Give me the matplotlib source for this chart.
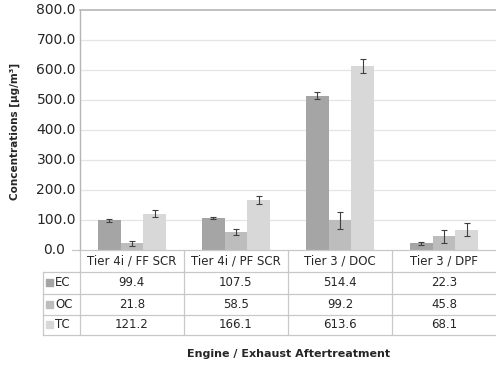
import matplotlib
matplotlib.use('Agg')
import matplotlib.pyplot as plt
from matplotlib.patches import Rectangle

# carbon fractions per engine / aftertreatment configuration
categories = ['Tier 4i / FF SCR', 'Tier 4i / PF SCR', 'Tier 3 / DOC', 'Tier 3 / DPF']
series = ['EC', 'OC', 'TC']
ec = [99.4, 107.5, 514.4, 22.3]
oc = [21.8, 58.5, 99.2, 45.8]
tc = [121.2, 166.1, 613.6, 68.1]
ec_err = [5, 3, 12, 4]
oc_err = [8, 10, 29, 21]
tc_err = [12, 14, 24, 22]
yticks = [0, 100, 200, 300, 400, 500, 600, 700, 800]

values = [ec, oc, tc]
errors = [ec_err, oc_err, tc_err]
colors = ['#a5a5a5', '#bdbdbd', '#d8d8d8']
grid_c = '#e4e4e4'
line_c = '#c8c8c8'
text_c = '#262626'

W, H = 496, 366
fig = plt.figure(figsize=(W / 100, H / 100), dpi=100)
plt.rcParams['font.family'] = 'DejaVu Sans'

def px_axes(x0, y0, x1, y1):
    return fig.add_axes([x0 / W, 1 - y1 / H, (x1 - x0) / W, (y1 - y0) / H])

# plot area
ax = px_axes(80, 10, 496, 250)
ax.set_xlim(0, 4)
ax.set_ylim(0, 800)
bw = 0.22
for j in range(3):
    xs = [i + 0.5 + (j - 1) * bw for i in range(4)]
    ax.bar(xs, values[j], width=bw, color=colors[j], zorder=2)
    ax.errorbar(xs, values[j], yerr=errors[j], fmt='none', ecolor='#404040',
                elinewidth=0.8, capsize=2, capthick=0.8, zorder=3)
for y in yticks[1:-1]:
    ax.axhline(y, color=grid_c, lw=0.9, zorder=1)
for s in ['right', 'bottom']:
    ax.spines[s].set_visible(False)
ax.spines['top'].set_color('#b5b5b5')
ax.spines['top'].set_linewidth(1.2)
ax.spines['left'].set_color('#b5b5b5')
ax.spines['left'].set_linewidth(1.0)
ax.set_xticks([])
ax.set_yticks([])
for y in yticks:
    off = -0.01 if y else -0.036
    ax.text(off, y, '%.1f' % y, transform=ax.get_yaxis_transform(),
            ha='right', va='center', fontsize=10, color=text_c)
ax.plot([-8 / 416, 0], [0, 0], transform=ax.get_yaxis_transform(),
        color=line_c, lw=0.9, clip_on=False)

# data table under the plot
tab = px_axes(43, 250, 496, 336)
tab.set_xlim(-37 / 105, 4)
tab.set_ylim(86, 0)
tab.axis('off')
rows = [0, 22, 43.5, 64.5, 85]
lk = dict(color=line_c, lw=0.9, clip_on=False)
tab.plot([0, 4], [rows[0], rows[0]], **lk)
for r in rows[1:]:
    tab.plot([-37 / 105, 4], [r, r], **lk)
tab.plot([-37 / 105, -37 / 105], [rows[1], rows[-1]], **lk)
for i in range(4):
    tab.plot([i, i], [rows[0], rows[-1]], **lk)
for i, c in enumerate(categories):
    tab.text(i + 0.5, (rows[0] + rows[1]) / 2, c, ha='center', va='center',
             fontsize=8.5, color=text_c)
for j, name in enumerate(series):
    yc = (rows[j + 1] + rows[j + 2]) / 2
    tab.add_patch(Rectangle((-34 / 105, yc - 3.5), 7.5 / 105, 7,
                            color=colors[j], clip_on=False))
    tab.text(-25 / 105, yc, name, ha='left', va='center', fontsize=8.5, color=text_c)
    for i in range(4):
        tab.text(i + 0.5, yc, '%.1f' % values[j][i], ha='center', va='center',
                 fontsize=8.5, color=text_c)

fig.text(15 / W, 1 - 131 / H, 'Concentrations [µg/m³]', rotation=90,
         ha='center', va='center', fontsize=7.5, fontweight='bold', color=text_c)
fig.text(289 / W, 1 - 354 / H, 'Engine / Exhaust Aftertreatment',
         ha='center', va='center', fontsize=8, fontweight='bold', color=text_c)

fig.savefig('out.png', dpi=100)
